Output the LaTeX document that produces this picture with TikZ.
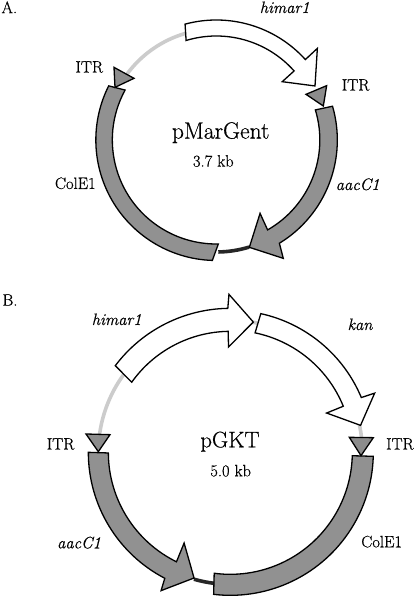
\documentclass[tikz,border=0pt]{standalone}
\usepackage{fontspec}
\setmainfont{Latin Modern Roman}[RawFeature={embolden=0.5},ItalicFeatures={RawFeature={embolden=0.5}}]
\tikzset{
  gene/.style={draw=black,line width=1.3pt,line join=miter,miter limit=10},
  whitegene/.style={gene,fill=white},
  graygene/.style={gene,fill=black!43},
  itrmark/.style={gene,fill=black!45},
  spacer/.style={line width=3.6pt,draw=black!20},
  ori/.style={line width=3.6pt,draw=black!85},
  lab/.style={inner sep=0pt,font=\fontsize{16.5}{18}\selectfont},
  lbl/.style={lab,font=\fontsize{16.5}{18}\selectfont\itshape},
  big/.style={inner sep=0pt}
}
\begin{document}
\begin{tikzpicture}[x=1pt,y=1pt]
\useasboundingbox (0,0) rectangle (415,600);
\fill[white] (0,0) rectangle (415,600);
% Panel A
\begin{scope}[shift={(216.33,460)}]
\draw[spacer] (144:111pt) arc[start angle=144,end angle=106,radius=111pt];
\draw[ori] (-73:112pt) arc[start angle=-73,end angle=-89,radius=112pt];
\path[whitegene] (105.1:120pt) arc[start angle=105.1,end angle=42.1,radius=120pt]
  -- (42.2:136.4pt) -- (28.7:112.5pt) -- (41.5:88pt) -- (41.6:104pt)
  arc[start angle=41.6,end angle=106.9,radius=104pt] -- cycle;
\path[graygene] (16.2:121pt) arc[start angle=16.2,end angle=-58.6,radius=121pt]
  -- (-60.5:136pt) -- (-72.9:112.3pt) -- (-59.2:85.4pt) -- (-60.3:103.5pt)
  arc[start angle=-60.3,end angle=16.9,radius=103.5pt] -- cycle;
\path[graygene] (-91.9:120.5pt) arc[start angle=-91.9,end angle=-206.7,radius=120.5pt]
  -- (151.3:104pt) arc[start angle=151.3,end angle=271.1,radius=104pt] -- cycle;
\end{scope}
\begin{scope}[x=0.33333pt,y=-0.33333pt,yshift=600pt]
\path[itrmark] (342,202) -- (345,262) -- (402,235) -- cycle;
\path[itrmark] (980,257) -- (918,283) -- (970,318) -- cycle;
\node[lab] (labA) at (28,22) {A.};
\node[lbl] (himarA) at (854,22) {himar1};
\node[lab] (itrAl) at (268,201) {ITR};
\node[lab] (itrAr) at (1067,255) {ITR};
\node[big] (nameA) at (662,398) {\fontsize{23.5}{25}\selectfont pMarGent};
\node[lab] (sizeA) at (640,483) {3.7 kb};
\node[lab] (coleA) at (226,550) {ColE1};
\node[lbl] (aacA) at (1073,553) {aacC1};
\end{scope}
% Panel B
\begin{scope}[shift={(230.33,147.67)}]
\draw[spacer] (143:132pt) arc[start angle=143,end angle=178,radius=132pt];
\draw[spacer] (12:132pt) arc[start angle=12,end angle=6,radius=132pt];
\draw[spacer] (81:132pt) arc[start angle=81,end angle=77,radius=132pt];
\draw[ori] (-106:132pt) arc[start angle=-106,end angle=-97,radius=132pt];
\path[whitegene] (143:144pt) arc[start angle=143,end angle=91,radius=144pt]
  -- (90.5:158pt) -- (80:132.3pt) -- (91:105.3pt) -- (91:121pt)
  arc[start angle=91,end angle=144.6,radius=121pt] -- cycle;
\path[whitegene] (77.6:142pt) arc[start angle=77.6,end angle=22.7,radius=142pt]
  -- (22.3:156pt) -- (11.7:133pt) -- (22.2:104pt) -- (22.2:122pt)
  arc[start angle=22.2,end angle=78.3,radius=122pt] -- cycle;
\path[graygene] (180:142pt) arc[start angle=180,end angle=242.5,radius=142pt]
  -- (243.4:154.7pt) -- (253.9:130.8pt) -- (243:101.8pt) -- (243.8:122pt)
  arc[start angle=243.8,end angle=180.3,radius=122pt] -- cycle;
\path[graygene] (-96.7:143pt) arc[start angle=-96.7,end angle=-1.6,radius=143pt]
  -- (-1.6:122pt) arc[start angle=-1.6,end angle=-97.6,radius=122pt] -- cycle;
\end{scope}
\begin{scope}[x=0.33333pt,y=-0.33333pt,yshift=315pt]
\path[itrmark] (258,447) -- (330,449) -- (295,500) -- cycle;
\path[itrmark] (1048,457) -- (1120,458) -- (1083,512) -- cycle;
\node[lab] (labB) at (30,45) {B.};
\node[lbl] (himarB) at (350,103) {himar1};
\node[lbl] (kanB) at (1080,118) {kan};
\node[lab] (itrBl) at (182,477) {ITR};
\node[lab] (itrBr) at (1200,477) {ITR};
\node[big] (nameB) at (690,470) {\fontsize{22.5}{24}\selectfont pGKT};
\node[lab] (sizeB) at (692,557) {5.0 kb};
\node[lbl] (aacB) at (237,773) {aacC1};
\node[lab] (coleB) at (1145,770) {ColE1};
\end{scope}
\end{tikzpicture}
\end{document}
